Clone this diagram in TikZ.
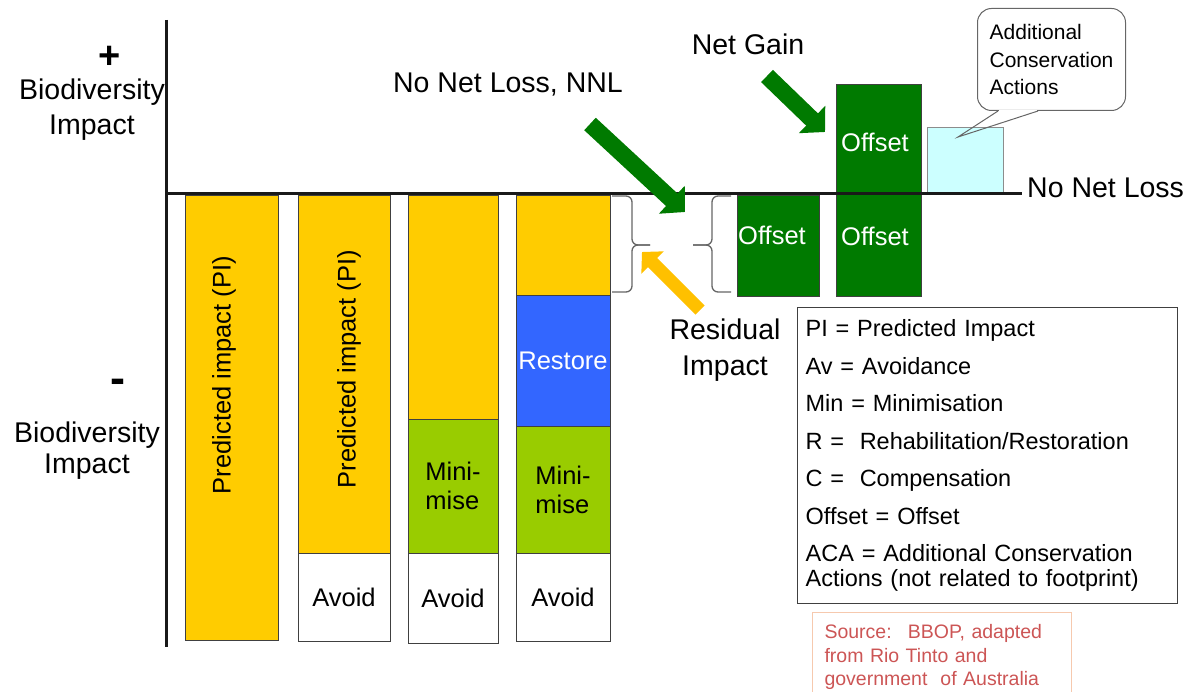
\documentclass[tikz,border=0pt]{standalone}
\usepackage{fontspec}
\setmainfont{Liberation Sans}
\setsansfont{Liberation Sans}
\usetikzlibrary{arrows.meta, calc}

\definecolor{impactYellow}{HTML}{FFCC00}
\definecolor{minimiseGreen}{HTML}{99CC00}
\definecolor{restoreBlue}{HTML}{3366FF}
\definecolor{offsetGreen}{HTML}{007A00}
\definecolor{acaCyan}{HTML}{CCFFFF}
\definecolor{residualOrange}{HTML}{FFC000}
\definecolor{sourceRed}{HTML}{CC5555}
\definecolor{sourceBorder}{HTML}{F6C9AE}

\tikzset{%
  >={Triangle[length=18pt,width=37pt]},
  % Specifications for style of nodes:
           block/.style = {rectangle, draw=black!75, line width=1pt, inner sep=0pt,
                           outer sep=0pt, anchor=north west, text centered,
                           font=\sffamily\fontsize{25.5}{29}\selectfont},
     impactBlock/.style = {block, fill=impactYellow},
   minimiseBlock/.style = {block, fill=minimiseGreen, align=left},
    restoreBlock/.style = {block, fill=restoreBlue, text=white},
      avoidBlock/.style = {block, fill=white},
     offsetBlock/.style = {block, fill=offsetGreen},
        acaBlock/.style = {block, fill=acaCyan, draw=black!45},
       blockText/.style = {inner sep=0pt, font=\sffamily\fontsize{25.5}{29}\selectfont},
      offsetText/.style = {blockText, text=white},
        bigLabel/.style = {inner sep=0pt, align=center,
                           font=\sffamily\fontsize{28.5}{35}\selectfont},
        signText/.style = {inner sep=0pt, font=\sffamily\bfseries\fontsize{38}{38}\selectfont},
         noteBox/.style = {rectangle, rounded corners=14pt, draw=black!60, line width=1pt,
                           anchor=north west, minimum width=148pt, minimum height=102pt,
                           inner sep=0pt, align=left,
                           font=\sffamily\fontsize{21}{27.5}\selectfont},
       legendBox/.style = {rectangle, draw=black!75, line width=1.2pt, anchor=north west,
                           minimum height=296pt, text width=364pt, inner xsep=8pt,
                           inner ysep=0pt, align=left,
                           font=\sffamily\fontsize{23.5}{24.5}\selectfont},
       sourceBox/.style = {rectangle, draw=sourceBorder, line width=1pt, anchor=north west,
                           text width=235pt, inner xsep=12pt, inner ysep=12pt,
                           align=left, text=sourceRed,
                           font=\sffamily\fontsize{19.5}{23.5}\selectfont},
  % Specifications for style of lines:
        axisLine/.style = {line width=3pt, black!90},
        bigArrow/.style = {->, line width=17pt, draw=offsetGreen},
   residualArrow/.style = {-{Triangle[length=15pt,width=31pt]}, line width=13pt,
                           draw=residualOrange},
       braceLine/.style = {draw=black!60, line width=1.3pt, rounded corners=6pt},
}

\begin{document}
\begin{tikzpicture}[x=1pt, y=-1pt]
  \useasboundingbox (0,0) rectangle (1194,692);

  % Specification of the bars (position, size, etc.)
  \node (pi1)  [impactBlock, minimum width=93pt, minimum height=444pt] at (185,196) {};
  \node (pi1Label) [blockText, rotate=90] at (224,375) {Predicted impact (PI)};

  \node (pi2)  [impactBlock, minimum width=92pt, minimum height=357pt] at (298,196) {};
  \node (pi2Label) [blockText, rotate=90] at (349,369) {Predicted impact (PI)};
  \node (av2)  [avoidBlock, minimum width=92pt, minimum height=88pt] at (pi2.south west) {Avoid};

  \node (pi3)  [impactBlock, minimum width=90pt, minimum height=223pt] at (408,196) {};
  \node (min3) [minimiseBlock, minimum width=90pt, minimum height=134pt] at (pi3.south west) {Mini-\\mise};
  \node (av3)  [avoidBlock, minimum width=90pt, minimum height=90pt] at (min3.south west) {Avoid};

  \node (pi4)  [impactBlock, minimum width=94pt, minimum height=100pt] at (516,196) {};
  \node (res4) [restoreBlock, minimum width=94pt, minimum height=130pt] at (pi4.south west) {Restore};
  \node (min4) [minimiseBlock, minimum width=94pt, minimum height=127pt] at (res4.south west) {Mini-\\mise};
  \node (av4)  [avoidBlock, minimum width=94pt, minimum height=88pt] at (min4.south west) {Avoid};

  \node (off1) [offsetBlock, minimum width=82pt, minimum height=101pt] at (737,196) {};
  \node (off1Label) [offsetText] at (772,235) {Offset};
  \node (off2) [offsetBlock, minimum width=85pt, minimum height=212pt] at (836,85) {};
  \node (off2Upper) [offsetText] at (875,142) {Offset};
  \node (off2Lower) [offsetText] at (875,236) {Offset};
  \node (aca)  [acaBlock, minimum width=76pt, minimum height=66pt] at (927,128) {};

  % Axes
  \coordinate (axisTop) at (166,20);
  \coordinate (axisBottom) at (166,647);
  \coordinate (nnlStart) at (166,194);
  \coordinate (nnlEnd) at (1022,194);
  \draw[axisLine] (axisTop) -- (axisBottom);
  \draw[axisLine] (nnlStart) -- (nnlEnd);

  % Labels
  \node (plusSign)  [signText] at (110,57) {+};
  \node (bioUp)     [bigLabel] at (92,110) {Biodiversity\\Impact};
  \node (minusSign) [signText, font=\sffamily\bfseries\fontsize{45}{45}\selectfont] at (118,386) {-};
  \node (bioDown)   [bigLabel, font=\sffamily\fontsize{28.5}{31}\selectfont] at (87,451) {Biodiversity\\Impact};
  \node (nnlTitle)  [bigLabel] at (508,85) {No Net Loss, NNL};
  \node (netGain)   [bigLabel] at (748,44) {Net Gain};
  \node (residual)  [bigLabel, font=\sffamily\fontsize{28.5}{36}\selectfont] at (725,350) {Residual\\Impact};
  \node (noNetLoss) [bigLabel, anchor=west] at (1027,188) {No Net Loss};

  % Callout for the additional conservation actions
  \node (acaNote) [noteBox] at (977,8) {Additional\\Conservation\\Actions};
  \coordinate (noteTailA) at ($(acaNote.south west)+(21,0)$);
  \coordinate (noteTailB) at ($(acaNote.south west)+(61,0)$);
  \coordinate (noteTip) at (958,137);
  \draw[white, line width=2.5pt] ($(noteTailA)+(1,0)$) -- ($(noteTailB)+(-1,0)$);
  \draw[black!60, line width=1pt] (noteTailA) -- (noteTip) -- (noteTailB);

  % Legend and source
  \node (legend) [legendBox] at (797,307)
        {PI = Predicted Impact\\[13pt]
         Av = Avoidance\\[13pt]
         Min = Minimisation\\[13pt]
         R =~ Rehabilitation/Restoration\\[13pt]
         C =~ Compensation\\[13pt]
         Offset = Offset\\[13pt]
         ACA = Additional Conservation\\
         Actions (not related to footprint)};
  \node (source) [sourceBox] at (812,612)
        {Source:~ BBOP, adapted\\ from Rio Tinto and\\ government~ of Australia};

  % Arrows and braces
  \coordinate (nnlTail) at (590,124);
  \coordinate (nnlTip) at (685,212);
  \coordinate (gainTail) at (767,76);
  \coordinate (gainTip) at (825,132);
  \coordinate (residualTail) at (700,310);
  \coordinate (residualTip) at (642,252);
  \draw[bigArrow]      (nnlTail) -- (nnlTip);
  \draw[bigArrow]      (gainTail) -- (gainTip);
  \draw[residualArrow] (residualTail) -- (residualTip);

  \coordinate (braceLeftTip) at (650,245);
  \coordinate (braceRightTip) at (693,245);
  \draw[braceLine] (612,196) -- (632,196) -- (632,245) -- (braceLeftTip);
  \draw[braceLine] (braceLeftTip) -- (632,245) -- (632,292) -- (612,292);
  \draw[braceLine] (731,196) -- (712,196) -- (712,245) -- (braceRightTip);
  \draw[braceLine] (braceRightTip) -- (712,245) -- (712,292) -- (731,292);

\end{tikzpicture}
\end{document}
